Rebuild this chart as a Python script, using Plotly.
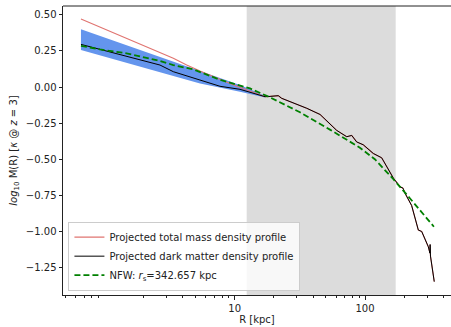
import plotly.graph_objects as go

# ---- data ----
R_total = [0.661, 3.38, 4.28, 5.42, 9.2, 10.98, 14.3, 17.1, 18.7, 21.6, 22.9, 31.7, 35.7, 45.2, 60.6,
           72.4, 79.1, 86.3, 97.0, 115.8, 134.3, 164.9, 185.6, 195.7, 202.8, 228, 242, 256.6, 272.4,
           306, 315, 316, 318, 340]
M_total = [0.47, 0.199, 0.152, 0.11, 0.025, -0.002, -0.04, -0.067, -0.065, -0.060, -0.078, -0.125, -0.147,
           -0.19, -0.30, -0.344, -0.335, -0.38, -0.40, -0.46, -0.49, -0.63, -0.69, -0.70, -0.735, -0.82,
           -0.90, -0.99, -1.0, -1.105, -1.15, -1.09, -1.17, -1.347]

R_dm = [0.661, 1.48, 2.67, 3.38, 4.81, 5.42, 7.71, 10.98, 17.1, 18.7, 21.6, 22.9, 31.7, 35.7, 45.2, 60.6,
        72.4, 79.1, 86.3, 97.0, 115.8, 134.3, 164.9, 185.6, 195.7, 202.8, 228, 242, 256.6, 272.4,
        306, 315, 316, 318, 340]
M_dm = [0.295, 0.215, 0.152, 0.106, 0.063, 0.048, 0.005, -0.016, -0.067, -0.065, -0.060, -0.078, -0.125,
        -0.147, -0.19, -0.30, -0.344, -0.335, -0.38, -0.40, -0.46, -0.49, -0.63, -0.69, -0.70, -0.735,
        -0.82, -0.90, -0.99, -1.0, -1.105, -1.15, -1.09, -1.17, -1.347]

R_band = [0.661, 3.38, 5.42, 10.98, 17.1]
band_hi = [0.40, 0.175, 0.106, 0.014, -0.060]
band_lo = [0.256, 0.076, 0.025, -0.032, -0.072]

R_nfw = [0.661, 0.925, 1.48, 2.67, 3.38, 4.81, 7.71, 13.1, 18.7, 31.7, 53.8, 91.4, 119, 164, 221, 338]
M_nfw = [0.285, 0.26, 0.233, 0.18, 0.152, 0.122, 0.05, -0.01, -0.072, -0.175, -0.295, -0.42, -0.50,
         -0.635, -0.77, -0.967]

shade_range = [12.36, 172]
x_major_ticks = [10, 100]
x_major_labels = ["10", "100"]
x_minor_ticks = [0.5, 0.6, 0.7, 0.8, 0.9, 2, 3, 4, 5, 6, 7, 8, 9,
                 20, 30, 40, 50, 60, 70, 80, 90, 200, 300, 400]
y_ticks = [0.5, 0.25, 0.0, -0.25, -0.5, -0.75, -1.0, -1.25]

FONT = "DejaVu Sans"
fig = go.Figure()

fig.add_vrect(x0=shade_range[0], x1=shade_range[1], fillcolor="#dcdcdc", opacity=1,
              line_width=0, layer="below")

fig.add_trace(go.Scatter(x=R_band, y=band_lo, mode="lines", line=dict(width=0),
                         showlegend=False, hoverinfo="skip"))
fig.add_trace(go.Scatter(x=R_band, y=band_hi, mode="lines", line=dict(width=0),
                         fill="tonexty", fillcolor="#6495ED", showlegend=False, hoverinfo="skip"))

fig.add_trace(go.Scatter(x=R_total, y=M_total, mode="lines",
                         line=dict(color="#e07470", width=1.1),
                         name="Projected total mass density profile"))
fig.add_trace(go.Scatter(x=R_dm, y=M_dm, mode="lines",
                         line=dict(color="black", width=1),
                         name="Projected dark matter density profile"))
fig.add_trace(go.Scatter(x=R_nfw, y=M_nfw, mode="lines",
                         line=dict(color="#008000", width=1.8, dash="6px,3px"),
                         name="NFW: <i>r</i><sub>s</sub>=342.657 kpc"))

# top spine
fig.add_shape(type="line", xref="paper", yref="paper", x0=0, x1=1, y0=1, y1=1,
              line=dict(color="#222", width=1))

fig.update_layout(
    width=451, height=327,
    margin=dict(l=63, r=0, t=6, b=32, autoexpand=False),
    paper_bgcolor="white", plot_bgcolor="white",
    font=dict(family=FONT, size=10, color="#222"),
    legend=dict(x=0.014, y=0.015, xanchor="left", yanchor="bottom", traceorder="normal",
                bgcolor="rgba(255,255,255,0.8)", bordercolor="#cccccc", borderwidth=1,
                font=dict(size=10, family=FONT), tracegroupgap=0),
)
fig.update_xaxes(type="log", range=[-0.3177, 2.660], showgrid=False, zeroline=False,
                 automargin=False,
                 showline=True, linecolor="#222", linewidth=1,
                 tickmode="array", tickvals=x_major_ticks, ticktext=x_major_labels,
                 ticks="outside", ticklen=3.5, tickcolor="#222",
                 minor=dict(tickmode="array", tickvals=x_minor_ticks, ticks="outside",
                            ticklen=2, tickcolor="#222", showgrid=False),
                 title=dict(text="R [kpc]", standoff=2, font=dict(size=10)))
fig.update_yaxes(range=[-1.4394, 0.5606], showgrid=False, zeroline=False,
                 automargin=False,
                 showline=True, linecolor="#222", linewidth=1,
                 tickmode="array", tickvals=y_ticks, tickformat=".2f",
                 ticks="outside", ticklen=3.5, tickcolor="#222",
                 title=dict(text="<i>log</i><sub>10</sub> M(R) [<i>κ</i> @ <i>z</i> = 3]",
                            standoff=6, font=dict(size=10)))

fig.write_html("out.html", config={"displayModeBar": False},
               post_script="document.body.style.margin='0';document.body.style.overflow='hidden';")
